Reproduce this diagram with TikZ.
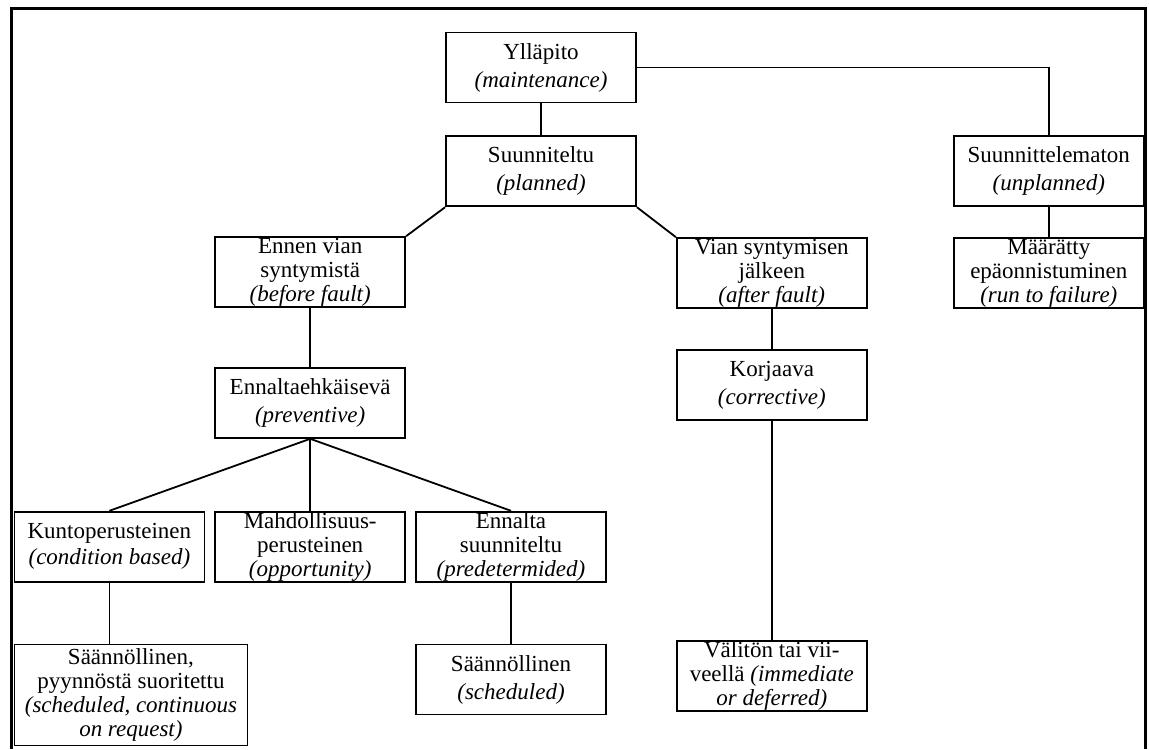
\documentclass[tikz,border=0pt]{standalone}
\usepackage{fontspec}
\setmainfont{Liberation Serif}
\usetikzlibrary{positioning}

\begin{document}
\begin{tikzpicture}[
    x=0.5pt, y=-0.5pt,
    every node/.style={font=\fontsize{11.5}{12}\selectfont},
    box/.style={
        rectangle,
        draw,
        line width=0.9pt,
        align=center,
        inner xsep=1pt,
        inner ysep=0pt,
        minimum width=95pt,
        minimum height=35pt
    },
    widebox/.style={
        box,
        minimum width=116.5pt,
        minimum height=50.5pt
    },
    link/.style={
        line width=0.9pt
    },
    frame/.style={
        line width=1.5pt
    }
]

\useasboundingbox (0,0) rectangle (1149,749);

% outer frame (bottom edge falls outside the page)
\draw[frame] (11,749) |- (1145,9) -- (1145,749);

% =========================================================
% TOP OF THE TREE
% =========================================================

\node[box] (yllapito) at (541,67.5) {
Ylläpito\\[2pt]
\textit{(maintenance)}
};

\node[box, below=16pt of yllapito] (suunniteltu) {
Suunniteltu\\[2pt]
\textit{(planned)}
};

\node[box, right=158pt of suunniteltu] (suunnittelematon) {
Suunnittelematon\\[2pt]
\textit{(unplanned)}
};

\node[box, below=15pt of suunnittelematon] (maaratty) {
Määrätty\\
epäonnistuminen\\
\textit{(run to failure)}
};

% =========================================================
% PLANNED BRANCHES
% =========================================================

\node[box, below left=14.5pt and 19.5pt of suunniteltu] (ennen) {
Ennen vian\\
syntymistä\\
\textit{(before fault)}
};

\node[box, below right=15pt and 19.5pt of suunniteltu] (vian) {
Vian syntymisen\\
jälkeen\\
\textit{(after fault)}
};

\node[box, below=29.5pt of ennen] (ennaltaehk) {
Ennaltaehkäisevä\\[2pt]
\textit{(preventive)}
};

\node[box, below=20pt of vian] (korjaava) {
Korjaava\\[2pt]
\textit{(corrective)}
};

% =========================================================
% PREVENTIVE ROW
% =========================================================

\node[box, below=36pt of ennaltaehk] (mahdollisuus) {
Mahdollisuus-\\
perusteinen\\
\textit{(opportunity)}
};

\node[box, left=4.5pt of mahdollisuus] (kunto) {
Kuntoperusteinen\\[1pt]
\textit{(condition based)}
};

\node[box, right=4.5pt of mahdollisuus] (ennalta) {
Ennalta\\
suunniteltu\\
\textit{(predetermided)}
};

% =========================================================
% BOTTOM ROW
% =========================================================

\node[widebox, below=30.5pt of kunto.south west, anchor=north west] (pyynnosta) {
Säännöllinen,\\
pyynnöstä suoritettu\\
\textit{(scheduled, continuous}\\
\textit{on request)}
};

\node[box, below=30.5pt of ennalta] (saannollinen) {
Säännöllinen\\[2pt]
\textit{(scheduled)}
};

\node[box, below=109.5pt of korjaava] (valiton) {
Välitön tai vii-\\
veellä \textit{(immediate}\\
\textit{or deferred)}
};

% =========================================================
% CONNECTORS
% =========================================================

\draw[link] (yllapito) -- (suunniteltu);
\draw[link] (yllapito.east) -| (suunnittelematon.north);
\draw[link] (suunnittelematon) -- (maaratty);

\draw[link] (suunniteltu.south west) -- (ennen.north east);
\draw[link] (suunniteltu.south east) -- (vian.north west);

\draw[link] (ennen) -- (ennaltaehk);
\draw[link] (vian) -- (korjaava);
\draw[link] (korjaava) -- (valiton);

\draw[link] (ennaltaehk.south) -- (kunto.north);
\draw[link] (ennaltaehk.south) -- (mahdollisuus.north);
\draw[link] (ennaltaehk.south) -- (ennalta.north);

\draw[link] (kunto.south) -- (kunto.south |- pyynnosta.north);
\draw[link] (ennalta) -- (saannollinen);

\end{tikzpicture}
\end{document}
